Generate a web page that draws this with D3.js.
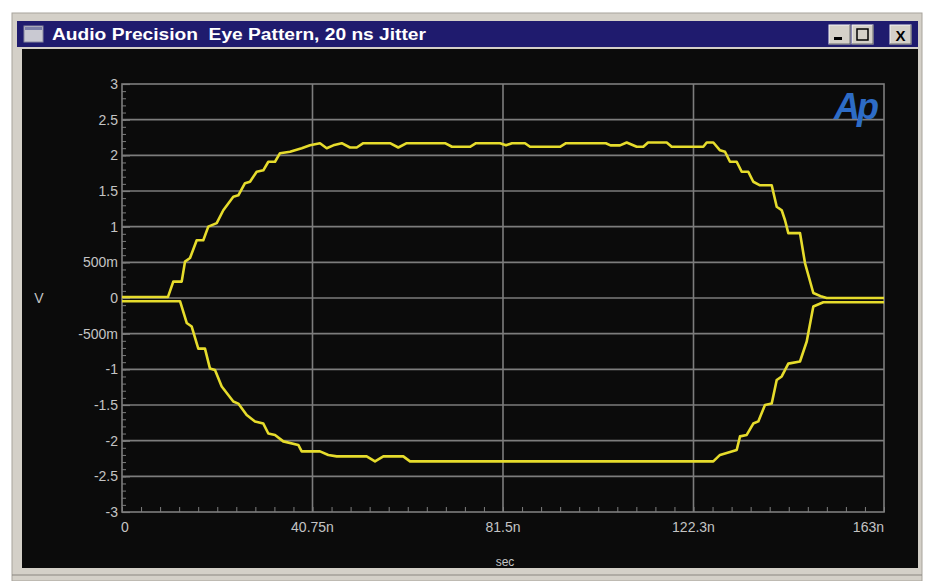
<!DOCTYPE html>
<html>
<head>
<meta charset="utf-8">
<script src="https://cdn.jsdelivr.net/npm/d3@7"></script>
<style>
  html, body { margin: 0; padding: 0; background: #ffffff; }
  svg { display: block; }
</style>
</head>
<body>
<svg id="chart" width="928" height="581"></svg>
<script>
// ---- data (time in ns, voltage in V) ----
const upperTime = [0, 9.84, 10.97, 12.77, 13.48, 14.55, 15.98, 17.39, 18.46, 20.26, 21.67, 23.81, 24.88, 26.31, 27.38, 28.81, 30.23, 31.30, 32.73, 33.80, 35.94, 38.44, 40.22, 42.35, 43.79, 45.20, 47.00, 48.77, 50.21, 51.62, 57.33, 59.10, 60.90, 69.09, 70.59, 74.44, 75.72, 80.86, 82.14, 83.42, 86.21, 87.28, 93.69, 94.98, 103.5, 104.5, 106.53, 107.96, 110.10, 111.51, 112.52, 116.52, 117.59, 124.35, 125.07, 126.49, 127.92, 128.99, 130.06, 131.49, 132.56, 133.97, 135.04, 136.48, 138.98, 140.05, 141.12, 141.83, 142.53, 145.03, 146.10, 147.88, 149.67, 150.74, 163];
const upperVolt = [0.015, 0.015, 0.23, 0.23, 0.51, 0.56, 0.81, 0.81, 1.00, 1.05, 1.23, 1.42, 1.44, 1.61, 1.63, 1.77, 1.79, 1.91, 1.91, 2.03, 2.05, 2.10, 2.14, 2.17, 2.10, 2.14, 2.17, 2.11, 2.11, 2.17, 2.17, 2.11, 2.17, 2.17, 2.12, 2.12, 2.17, 2.17, 2.14, 2.17, 2.17, 2.12, 2.12, 2.17, 2.17, 2.14, 2.14, 2.18, 2.12, 2.12, 2.18, 2.18, 2.12, 2.12, 2.18, 2.18, 2.07, 2.05, 1.91, 1.91, 1.77, 1.77, 1.63, 1.58, 1.58, 1.28, 1.23, 1.09, 0.91, 0.91, 0.49, 0.07, 0.02, 0.0, 0.0];
const lowerTime = [0, 12.41, 13.84, 14.91, 16.32, 17.75, 18.82, 19.89, 21.33, 23.81, 24.88, 26.67, 28.45, 30.23, 31.30, 32.73, 34.50, 37.71, 38.44, 42.35, 44.13, 45.93, 52.34, 54.12, 55.90, 60.17, 61.61, 126.49, 127.92, 131.49, 132.20, 133.63, 135.04, 136.11, 137.54, 138.98, 140.05, 141.12, 142.53, 145.03, 146.47, 147.88, 150.02, 163];
const lowerVolt = [-0.045, -0.045, -0.35, -0.40, -0.71, -0.71, -0.99, -1.01, -1.24, -1.45, -1.48, -1.64, -1.73, -1.76, -1.90, -1.92, -2.01, -2.06, -2.15, -2.15, -2.20, -2.22, -2.22, -2.29, -2.22, -2.22, -2.29, -2.29, -2.20, -2.13, -1.94, -1.92, -1.76, -1.73, -1.50, -1.48, -1.15, -1.10, -0.92, -0.89, -0.61, -0.12, -0.06, -0.06];

const yTickValues = [3, 2.5, 2, 1.5, 1, 0.5, 0, -0.5, -1, -1.5, -2, -2.5, -3];
const yTickLabels = ["3", "2.5", "2", "1.5", "1", "500m", "0", "-500m", "-1", "-1.5", "-2", "-2.5", "-3"];
const xTickValues = [0, 40.75, 81.5, 122.25, 163];
const xTickLabels = ["0", "40.75n", "81.5n", "122.3n", "163n"];

const titleText = "Audio Precision  Eye Pattern, 20 ns Jitter";
const yAxisTitle = "V";
const xAxisTitle = "sec";

// ---- layout ----
const svg = d3.select("#chart");
const plot = { left: 122, right: 884, top: 84, bottom: 512 };
const x = d3.scaleLinear().domain([0, 163]).range([plot.left, plot.right]);
const y = d3.scaleLinear().domain([-3, 3]).range([plot.bottom, plot.top]);

// ---- window chrome ----
svg.append("rect").attr("x", 12).attr("y", 13).attr("width", 910).attr("height", 568)
  .attr("fill", "#d4d0c8").attr("stroke", "#a8a49c").attr("stroke-width", 1);
svg.append("rect").attr("x", 17).attr("y", 21).attr("width", 901).attr("height", 26).attr("fill", "#1f1b6e");
// window icon
svg.append("rect").attr("x", 24).attr("y", 26).attr("width", 19).attr("height", 16).attr("fill", "#c9c9d2").attr("stroke", "#8888a0");
svg.append("rect").attr("x", 25).attr("y", 27).attr("width", 17).attr("height", 3).attr("fill", "#7b7fa8");
svg.append("text").attr("x", 52).attr("y", 40).text(titleText)
  .attr("xml:space", "preserve").style("white-space", "pre")
  .attr("textLength", 374).attr("lengthAdjust", "spacingAndGlyphs")
  .attr("fill", "#ffffff").attr("font-family", "Liberation Sans, Arial, sans-serif")
  .attr("font-weight", "bold").attr("font-size", 16);
// buttons
const btns = [{x: 829, s: "_"}, {x: 852, s: "□"}, {x: 890, s: "X"}];
btns.forEach(b => {
  const g = svg.append("g");
  g.append("rect").attr("x", b.x).attr("y", 25).attr("width", 21).attr("height", 19)
    .attr("fill", "#d4d0c8").attr("stroke", "#f4f4f4").attr("stroke-width", 1);
  g.append("path").attr("d", `M${b.x + 21},25 V44 H${b.x}`).attr("stroke", "#5a5a5a").attr("fill", "none");
});
svg.append("rect").attr("x", 834).attr("y", 37).attr("width", 8).attr("height", 3).attr("fill", "#000");
svg.append("rect").attr("x", 857).attr("y", 29).attr("width", 11).attr("height", 11).attr("fill", "none").attr("stroke", "#000").attr("stroke-width", 1.5);
svg.append("text").attr("x", 900.5).attr("y", 41).attr("text-anchor", "middle").text("X")
  .attr("font-family", "Liberation Sans, Arial, sans-serif").attr("font-weight", "bold").attr("font-size", 15).attr("fill", "#000");

// black plot panel
svg.append("rect").attr("x", 22).attr("y", 49).attr("width", 896).attr("height", 519).attr("fill", "#0b0b0b");
svg.append("line").attr("x1", 12).attr("x2", 922).attr("y1", 575).attr("y2", 575).attr("stroke", "#8a8680").attr("stroke-width", 1);

// ---- grid ----
const gridColor = "#7d7d7d";
const grid = svg.append("g");
grid.selectAll("line.h").data(yTickValues.filter(v => v > -3 && v < 3)).join("line")
  .attr("x1", plot.left).attr("x2", plot.right)
  .attr("y1", d => y(d)).attr("y2", d => y(d))
  .attr("stroke", gridColor).attr("stroke-width", 1.6);
grid.selectAll("line.v").data(xTickValues.filter(v => v > 0 && v < 163)).join("line")
  .attr("x1", d => x(d)).attr("x2", d => x(d))
  .attr("y1", plot.top).attr("y2", plot.bottom)
  .attr("stroke", gridColor).attr("stroke-width", 1.6);
svg.append("rect").attr("x", plot.left).attr("y", plot.top)
  .attr("width", plot.right - plot.left).attr("height", plot.bottom - plot.top)
  .attr("fill", "none").attr("stroke", gridColor).attr("stroke-width", 1.6);

// ---- axes ----
const labelFont = "Liberation Sans Narrow, Arial Narrow, Liberation Sans, sans-serif";
const labelColor = "#c4c4c4";

const yMinor = d3.axisRight(y).ticks(60).tickSize(4).tickFormat("");
svg.append("g").attr("transform", `translate(${plot.left},0)`).call(yMinor)
  .call(g => g.select(".domain").remove())
  .call(g => g.selectAll("line").attr("stroke", gridColor).attr("stroke-width", 1));
const yMajor = d3.axisRight(y).tickValues(yTickValues).tickSize(8).tickFormat("");
svg.append("g").attr("transform", `translate(${plot.left},0)`).call(yMajor)
  .call(g => g.select(".domain").remove())
  .call(g => g.selectAll("line").attr("stroke", gridColor).attr("stroke-width", 1.2));
svg.append("g").selectAll("text").data(yTickValues).join("text")
  .attr("x", plot.left - 4).attr("y", d => y(d)).attr("dy", "0.36em")
  .attr("text-anchor", "end").text((d, i) => yTickLabels[i])
  .attr("fill", labelColor).attr("font-family", labelFont).attr("font-size", 14);

const xMinor = d3.axisTop(x).tickValues(d3.range(0, 41).map(i => i * 163 / 40)).tickSize(5).tickFormat("");
svg.append("g").attr("transform", `translate(0,${plot.bottom})`).call(xMinor)
  .call(g => g.select(".domain").remove())
  .call(g => g.selectAll("line").attr("stroke", gridColor).attr("stroke-width", 1));
svg.append("g").selectAll("text").data(xTickValues).join("text")
  .attr("x", d => x(d)).attr("y", 532)
  .attr("text-anchor", (d, i) => i === xTickValues.length - 1 ? "end" : "middle")
  .attr("dx", (d, i) => i === 0 ? 3 : 0)
  .text((d, i) => xTickLabels[i])
  .attr("fill", labelColor).attr("font-family", labelFont).attr("font-size", 14);

svg.append("text").attr("x", 39).attr("y", 303).attr("text-anchor", "middle").text(yAxisTitle)
  .attr("fill", labelColor).attr("font-family", labelFont).attr("font-size", 14);
svg.append("text").attr("x", 505).attr("y", 566).attr("text-anchor", "middle").text(xAxisTitle)
  .attr("fill", labelColor).attr("font-family", labelFont).attr("font-size", 12);

// ---- Ap logo ----
svg.append("text").attr("x", 834).attr("y", 119).text("Ap")
  .attr("fill", "#2d6cc6").attr("font-family", "Liberation Sans, Arial, sans-serif")
  .attr("font-weight", "bold").attr("font-style", "italic").attr("font-size", 36)
  .attr("letter-spacing", -3);

// ---- traces ----
const line = d3.line().x(d => x(d[0])).y(d => y(d[1]));
const traceColor = "#e6dc2c";
[[upperTime, upperVolt], [lowerTime, lowerVolt]].forEach(([t, v]) => {
  svg.append("path").datum(t.map((tt, i) => [tt, v[i]]))
    .attr("d", line).attr("fill", "none")
    .attr("stroke", traceColor).attr("stroke-width", 2.6).attr("stroke-linejoin", "round");
});
</script>
</body>
</html>
